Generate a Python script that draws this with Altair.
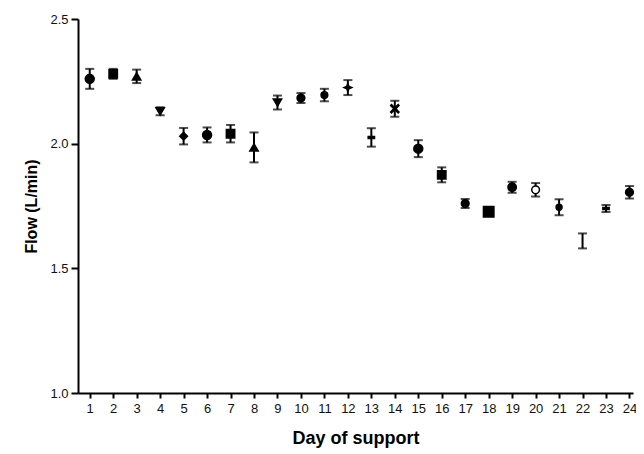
import altair as alt
import pandas as pd

days = list(range(1, 25))
means = [2.26, 2.28, 2.27, 2.13, 2.03, 2.035, 2.04, 1.985, 2.165, 2.183, 2.195, 2.225,
         2.025, 2.14, 1.98, 1.875, 1.76, 1.727, 1.825, 1.815, 1.745, 1.61, 1.74, 1.805]
errs = [0.04, 0.02, 0.027, 0.016, 0.033, 0.03, 0.035, 0.06, 0.028, 0.02, 0.025, 0.03,
        0.037, 0.032, 0.034, 0.03, 0.018, 0.012, 0.022, 0.027, 0.032, 0.03, 0.014, 0.025]

X_PATH = "M-0.8,-1L0,-0.25L0.8,-1L1,-0.8L0.25,0L1,0.8L0.8,1L0,0.25L-0.8,1L-1,0.8L-0.25,0L-1,-0.8Z"
DASH_PATH = "M-1,-0.3H1V0.3H-1Z"
STAR_PATH = "M0,-1L0.3,-0.3L1,0L0.3,0.3L0,1L-0.3,0.3L-1,0L-0.3,-0.3Z"
marker_shapes = ["circle", "square", "triangle-up", "triangle-down", "diamond", "circle",
                 "square", "triangle-up", "triangle-down", "circle", "circle", STAR_PATH,
                 DASH_PATH, X_PATH, "circle", "square", "circle", "square", "circle",
                 "circle", "circle", "circle", DASH_PATH, "circle"]
marker_sizes = [80, 70, 70, 70, 60, 80, 70, 70, 70, 60, 45, 60,
                40, 70, 80, 70, 60, 110, 70, 60, 35, 0, 40, 60]
marker_fills = ["black"] * 24
marker_fills[19] = "white"

df = pd.DataFrame({"day": days, "mean": means, "err": errs,
                   "shape": marker_shapes, "size": marker_sizes, "fill": marker_fills})
df["lo"] = df["mean"] - df["err"]
df["hi"] = df["mean"] + df["err"]

font = "Liberation Sans"
xscale = alt.Scale(domain=[0.5, 24.15], nice=False, zero=False)
yscale = alt.Scale(domain=[1.0, 2.5], nice=False, zero=False)

xax = alt.Axis(values=days, title="Day of support", labelOverlap=False, labelFlush=False)
yax = alt.Axis(values=[1.0, 1.5, 2.0, 2.5], format=".1f", title="Flow (L/min)",
               labelOverlap=False)

base = alt.Chart(df)
X = alt.X("day:Q", scale=xscale, axis=xax)
rules = base.mark_rule(color="black", strokeWidth=2).encode(
    x=X,
    y=alt.Y("lo:Q", scale=yscale, axis=yax),
    y2="hi:Q",
)
caps_hi = base.mark_tick(color="black", orient="horizontal", size=9, thickness=2).encode(
    x=X, y=alt.Y("hi:Q", scale=yscale, axis=yax))
caps_lo = base.mark_tick(color="black", orient="horizontal", size=9, thickness=2).encode(
    x=X, y=alt.Y("lo:Q", scale=yscale, axis=yax))
pts = base.mark_point(filled=True, stroke="black", strokeWidth=1.5, opacity=1).encode(
    x=X,
    y=alt.Y("mean:Q", scale=yscale, axis=yax),
    shape=alt.Shape("shape:N", scale=None),
    size=alt.Size("size:Q", scale=None),
    fill=alt.Fill("fill:N", scale=None),
)

chart = (
    alt.layer(rules, caps_hi, caps_lo, pts)
    .properties(
        width=555, height=374,
        autosize=alt.AutoSizeParams(type="none"),
        padding={"left": 70, "top": 11, "right": 3, "bottom": 58},
        background="white",
    )
    .configure_view(stroke=None)
    .configure_axis(
        grid=False, domainWidth=2, domainColor="black", tickColor="black",
        tickWidth=2, labelFont=font, labelFontSize=13, labelColor="#111",
        titleFont=font, titleFontWeight="bold", titleColor="black",
    )
    .configure_axisX(tickSize=5, labelPadding=4, titleFontSize=18, titlePadding=14)
    .configure_axisY(tickSize=7, labelPadding=3, titleFontSize=16, titlePadding=10)
)

chart.save("out.html", embed_options={"renderer": "svg", "actions": False})
